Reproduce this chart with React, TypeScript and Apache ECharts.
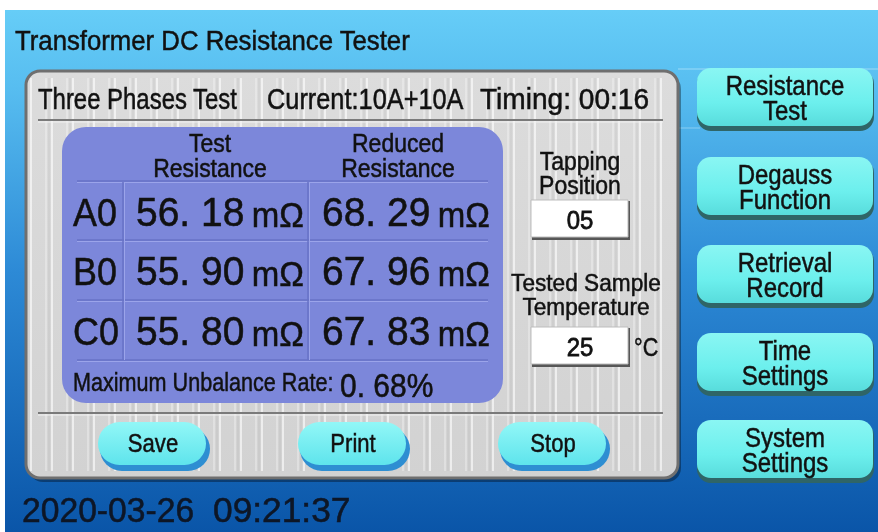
import React, { useEffect, useRef } from "react";
import * as echarts from "echarts";

// ---- data ----
const screenTitle = "Transformer DC Resistance Tester";
const testMode = "Three Phases Test";
const currentSetting = "10A+10A";
const timing = "00:16";
const phases = ["A0", "B0", "C0"];
const testResistance = [56.18, 55.9, 55.8];
const reducedResistance = [68.29, 67.96, 67.83];
const columnHeaders = [
  ["Test", "Resistance"],
  ["Reduced", "Resistance"],
];
const unit = "mΩ";
const maxUnbalanceRate = 0.68;
const tappingPosition = "05";
const sampleTemperature = 25;
const sideButtons = [
  ["Resistance", "Test"],
  ["Degauss", "Function"],
  ["Retrieval", "Record"],
  ["Time", "Settings"],
  ["System", "Settings"],
];
const actionButtons = ["Save", "Print", "Stop"];
const dateText = "2020-03-26";
const timeText = "09:21:37";

const FONT = '"Liberation Sans", Arial, sans-serif';

function fmt(v: number) {
  return v.toFixed(2).replace(".", ". ");
}

function txt(text: string, x: number, y: number, size: number, o: any = {}) {
  const color = o.color ?? "#111";
  return {
    type: "text",
    x,
    y,
    scaleX: o.sx ?? 1,
    scaleY: o.sy ?? 1.1,
    z: 10,
    style: {
      text,
      x: 0,
      y: 0,
      fill: color,
      stroke: color,
      lineWidth: o.lw ?? 0.45,
      fontSize: size,
      fontFamily: FONT,
      fontWeight: o.weight ?? "normal",
      textAlign: o.align ?? "left",
      verticalAlign: "middle",
    },
  };
}

function buildGraphics() {
  const g: any[] = [];
  // page + screen
  g.push({ type: "rect", shape: { x: 0, y: 0, width: 878, height: 532 }, style: { fill: "#ffffff" } });
  g.push({
    type: "rect",
    shape: { x: 5, y: 10, width: 873, height: 522 },
    style: {
      fill: new echarts.graphic.LinearGradient(0, 0, 0, 1, [
        { offset: 0, color: "#66cdf7" },
        { offset: 0.15, color: "#57bdf0" },
        { offset: 0.5, color: "#2d8ad6" },
        { offset: 1, color: "#0a55a8" },
      ]),
    },
  });
  g.push({ type: "line", shape: { x1: 678, y1: 69, x2: 878, y2: 69 }, style: { stroke: "rgba(210,240,255,0.55)", lineWidth: 1 } });
  g.push({ type: "line", shape: { x1: 678, y1: 128, x2: 700, y2: 128 }, style: { stroke: "rgba(210,240,255,0.45)", lineWidth: 1 } });

  g.push(txt(screenTitle, 15, 41, 25, { sx: 1.03 }));

  // panel
  g.push({ type: "rect", shape: { x: 29, y: 75, width: 652, height: 407, r: 14 }, style: { fill: "rgba(0,0,0,0.35)" } });
  g.push({
    type: "rect",
    shape: { x: 26, y: 71, width: 652, height: 407, r: 14 },
    style: {
      fill: new echarts.graphic.LinearGradient(0, 0, 0, 1, [
        { offset: 0, color: "#dcdcdc" },
        { offset: 1, color: "#d2d2d2" },
      ]),
      stroke: "#6f6f6f",
      lineWidth: 3,
    },
  });
  for (let i = 0; i < 214; i++) {
    const k = (i * 37) % 7;
    const x = 31 + i * 3;
    if (k === 0 || k === 3) {
      g.push({ type: "line", shape: { x1: x, y1: 78, x2: x, y2: 471 }, style: { stroke: "rgba(255,255,255,0.6)", lineWidth: k === 0 ? 2 : 1 } });
    } else if (k === 5) {
      g.push({ type: "line", shape: { x1: x, y1: 78, x2: x, y2: 471 }, style: { stroke: "rgba(150,150,150,0.22)", lineWidth: 1 } });
    }
  }
  // header
  g.push(txt(testMode, 38, 99, 26, { sx: 0.92 }));
  g.push(txt("Current:" + currentSetting, 267, 99, 26, { sx: 0.975 }));
  g.push(txt("Timing: " + timing, 480, 99, 26, { sx: 1.08 }));
  for (const y of [120, 413]) {
    g.push({ type: "line", shape: { x1: 38, y1: y, x2: 663, y2: y }, style: { stroke: "#7a7a7a", lineWidth: 2 } });
    g.push({ type: "line", shape: { x1: 38, y1: y + 2, x2: 663, y2: y + 2 }, style: { stroke: "#f2f2f2", lineWidth: 1 } });
  }

  // table
  g.push({ type: "rect", shape: { x: 62, y: 127, width: 441, height: 276, r: 24 }, style: { fill: "#7c87da" } });
  const hLines = [181, 240, 300, 360];
  const vLines = [123, 308];
  for (const y of hLines) {
    g.push({ type: "line", shape: { x1: 77, y1: y, x2: 488, y2: y }, style: { stroke: "#6772c6", lineWidth: 1.5 } });
    g.push({ type: "line", shape: { x1: 77, y1: y + 1.5, x2: 488, y2: y + 1.5 }, style: { stroke: "#9ba4ea", lineWidth: 1 } });
  }
  for (const x of vLines) {
    g.push({ type: "line", shape: { x1: x, y1: 182, x2: x, y2: 360 }, style: { stroke: "#6772c6", lineWidth: 1.5 } });
    g.push({ type: "line", shape: { x1: x + 1.5, y1: 182, x2: x + 1.5, y2: 360 }, style: { stroke: "#9ba4ea", lineWidth: 1 } });
  }
  const headerCx = [210, 398];
  columnHeaders.forEach((h, i) => {
    g.push(txt(h[0], headerCx[i], 143, 23, { align: "center" }));
    g.push(txt(h[1], headerCx[i], 168, 23, { align: "center" }));
  });
  const rowCy = [212, 271, 331];
  const rich = {
    v: { fontSize: 39, fontFamily: FONT, fill: "#111", stroke: "#111", lineWidth: 0.5, verticalAlign: "bottom" },
    s: { fontSize: 26, fontFamily: FONT, fill: "#111", verticalAlign: "bottom" },
    u: { fontSize: 33, fontFamily: FONT, fill: "#111", stroke: "#111", lineWidth: 0.5, verticalAlign: "bottom" },
  };
  phases.forEach((p, i) => {
    g.push(txt(p, 73, rowCy[i], 37, { sx: 0.97, sy: 1.05, lw: 0.5 }));
    [testResistance[i], reducedResistance[i]].forEach((v, j) => {
      g.push({
        type: "text",
        x: j === 0 ? 136 : 322,
        y: rowCy[i],
        scaleY: 1.05,
        z: 10,
        style: {
          text: `{v|${fmt(v)}}{s| }{u|${unit}}`,
          x: 0,
          y: 0,
          textAlign: "left",
          verticalAlign: "middle",
          rich,
        },
      });
    });
  });
  g.push(txt("Maximum Unbalance Rate:", 73, 382, 24, { sx: 0.9 }));
  g.push(txt(fmt(maxUnbalanceRate) + "%", 340, 385, 30, { lw: 0.5 }));

  // right of table
  g.push(txt("Tapping", 580, 161, 23, { align: "center" }));
  g.push(txt("Position", 580, 185, 23, { align: "center" }));
  g.push(txt("Tested Sample", 586, 283, 22, { align: "center", sx: 1.03 }));
  g.push(txt("Temperature", 586, 307, 22, { align: "center", sx: 1.03 }));
  for (const [y, h, val] of [
    [200, 37, tappingPosition],
    [327, 37, String(sampleTemperature)],
  ] as any[]) {
    g.push({ type: "rect", shape: { x: 532, y: y + 1, width: 98, height: h + 2 }, style: { fill: "#575757" } });
    g.push({ type: "rect", shape: { x: 531, y, width: 97, height: h }, style: { fill: "#ffffff", stroke: "#bdbdbd", lineWidth: 1 } });
    g.push(txt(val, 580, y + h / 2 + 1, 24, { align: "center", lw: 0.7 }));
  }
  g.push(txt("°C", 634, 347, 24, { sx: 0.9 }));

  // action buttons
  const actionX = [98, 298, 498];
  actionButtons.forEach((b, i) => {
    const x = actionX[i];
    g.push({ type: "rect", shape: { x: x + 2, y: 427, width: 110, height: 44, r: 22 }, style: { fill: "#2e8ed2" } });
    g.push({
      type: "rect",
      shape: { x, y: 422, width: 108, height: 43, r: 21.5 },
      style: {
        fill: new echarts.graphic.LinearGradient(0, 0, 0, 1, [
          { offset: 0, color: "#92f7f7" },
          { offset: 1, color: "#5ee4ec" },
        ]),
      },
    });
    g.push(txt(b, x + 55, 443, 24, { align: "center", sx: 0.92 }));
  });

  // side buttons
  const sideY = [68, 157, 245, 333, 420];
  sideButtons.forEach((b, i) => {
    const y = sideY[i];
    g.push({ type: "rect", shape: { x: 697, y: y + 2, width: 177, height: 61, r: 14 }, style: { fill: "#2f6567" } });
    g.push({
      type: "rect",
      shape: { x: 697, y, width: 176, height: 58, r: 14 },
      style: {
        fill: new echarts.graphic.LinearGradient(0, 0, 0, 1, [
          { offset: 0, color: "#8af6f3" },
          { offset: 0.6, color: "#6cefed" },
          { offset: 1, color: "#58dcdc" },
        ]),
      },
    });
    g.push(txt(b[0], 785, y + 17, 25, { align: "center", sx: 0.96 }));
    g.push(txt(b[1], 785, y + 42, 25, { align: "center", sx: 0.96 }));
  });

  // date time
  g.push(txt(dateText, 22, 510, 33, { sx: 1.02, sy: 1.05, color: "#0d1626", lw: 0.5 }));
  g.push(txt(timeText, 213, 510, 33, { sx: 1.07, sy: 1.05, color: "#0d1626", lw: 0.5 }));
  return g;
}

export default function App() {
  const ref = useRef<HTMLDivElement>(null);
  useEffect(() => {
    if (!ref.current) return;
    const chart = echarts.init(ref.current, null, { renderer: "svg", width: 878, height: 532 });
    chart.setOption({
      animation: false,
      graphic: { elements: buildGraphics() },
    });
    return () => chart.dispose();
  }, []);
  return <div ref={ref} style={{ position: "fixed", left: 0, top: 0, width: 878, height: 532 }} />;
}
